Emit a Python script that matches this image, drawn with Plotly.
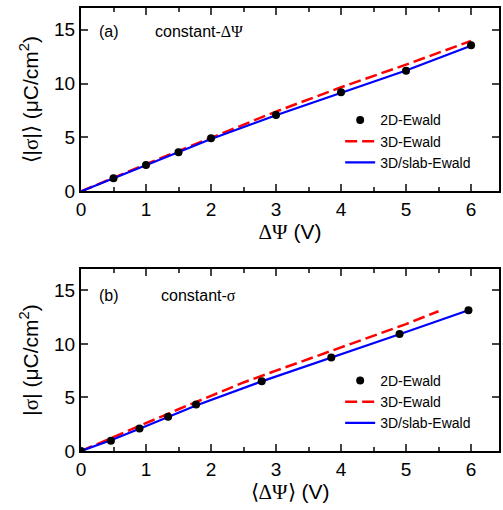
import plotly.graph_objects as go

# ---- panel (a): constant-ΔΨ ----
a_pts_x = [0.5, 1, 1.5, 2, 3, 4, 5, 6]
a_pts_y = [1.22, 2.45, 3.63, 4.93, 7.08, 9.18, 11.19, 13.54]
a_3d_x = [0, 0.5, 1, 1.5, 2, 3, 4, 5, 6]
a_3d_y = [0, 1.28, 2.52, 3.75, 4.98, 7.4, 9.65, 11.75, 13.95]
a_slab_x = [0, 0.5, 1, 1.5, 2, 3, 4, 5, 6]
a_slab_y = [0, 1.2, 2.42, 3.6, 4.85, 7.05, 9.15, 11.2, 13.5]

# ---- panel (b): constant-σ ----
b_pts_x = [0, 0.46, 0.90, 1.34, 1.77, 2.78, 3.85, 4.90, 5.96]
b_pts_y = [0, 0.96, 2.11, 3.2, 4.35, 6.52, 8.73, 10.93, 13.14]
b_3d_x = [0, 0.5, 1, 1.5, 2, 2.5, 3, 3.5, 4, 4.5, 5, 5.5]
b_3d_y = [0, 1.32, 2.62, 3.9, 5.15, 6.4, 7.5, 8.6, 9.65, 10.75, 11.85, 13.05]
b_slab_x = [0, 0.46, 0.90, 1.34, 1.77, 2.78, 3.85, 4.90, 5.96]
b_slab_y = [0, 1.0, 2.08, 3.15, 4.25, 6.5, 8.7, 10.9, 13.14]

names = ["2D-Ewald", "3D-Ewald", "3D/slab-Ewald"]
x_ticks = [0, 1, 2, 3, 4, 5, 6]
y_ticks = [0, 5, 10, 15]

FONT = "Liberation Sans, Arial, sans-serif"
GREEK = "<span style='font-family:Liberation Serif'>%s</span>"

fig = go.Figure()

def add_panel(px, py, rx, ry, bx, by, xa, ya, leg):
    fig.add_trace(go.Scatter(x=rx, y=ry, mode="lines", name=names[1], legendrank=2,
                             line=dict(color="#ff0000", width=2.5, dash="12px,5px"),
                             xaxis=xa, yaxis=ya, legend=leg))
    fig.add_trace(go.Scatter(x=bx, y=by, mode="lines", name=names[2], legendrank=3,
                             line=dict(color="#0000ff", width=2.2),
                             xaxis=xa, yaxis=ya, legend=leg))
    fig.add_trace(go.Scatter(x=px, y=py, mode="markers", name=names[0], legendrank=1,
                             marker=dict(color="black", size=8),
                             xaxis=xa, yaxis=ya, legend=leg))

add_panel(a_pts_x, a_pts_y, a_3d_x, a_3d_y, a_slab_x, a_slab_y, "x", "y", "legend")
add_panel(b_pts_x, b_pts_y, b_3d_x, b_3d_y, b_slab_x, b_slab_y, "x2", "y2", "legend2")

common_x = dict(range=[0, 6.43], tickvals=x_ticks, ticks="inside", ticklen=7, tickwidth=1.5,
                mirror="allticks", showline=True, linewidth=2, linecolor="black",
                showgrid=False, zeroline=False, tickfont=dict(size=19, color="black"),
                minor=dict(dtick=0.5, ticks="inside", ticklen=4, tickwidth=1.5, showgrid=False))
common_y = dict(range=[0, 17], tickvals=y_ticks, ticks="inside", ticklen=7, tickwidth=1.5,
                mirror="ticks", showline=True, linewidth=2, linecolor="black",
                showgrid=False, zeroline=False, tickfont=dict(size=19, color="black"))

fig.update_layout(
    width=503, height=510,
    margin=dict(l=81, r=2, t=8, b=59),
    plot_bgcolor="white", paper_bgcolor="white",
    font=dict(family=FONT, color="black"),
    xaxis=dict(common_x, domain=[0, 1], anchor="y",
               title=dict(text=GREEK % "ΔΨ" + " (V)", font=dict(size=21), standoff=4)),
    yaxis=dict(common_y, domain=[0.586, 1], anchor="x",
               title=dict(text="⟨|" + GREEK % "σ" + "|⟩ (μC/cm<sup>2</sup>)", font=dict(size=21), standoff=10)),
    xaxis2=dict(common_x, domain=[0, 1], anchor="y2",
                title=dict(text="⟨" + GREEK % "ΔΨ" + "⟩ (V)", font=dict(size=21), standoff=4)),
    yaxis2=dict(common_y, domain=[0, 0.411], anchor="x2",
                title=dict(text="|" + GREEK % "σ" + "| (μC/cm<sup>2</sup>)", font=dict(size=21), standoff=10)),
    legend=dict(x=0.62, y=0.699, xanchor="left", yanchor="middle", bgcolor="rgba(0,0,0,0)",
                font=dict(size=14), tracegroupgap=0, itemwidth=30, traceorder="normal"),
    legend2=dict(x=0.62, y=0.111, xanchor="left", yanchor="middle", bgcolor="rgba(0,0,0,0)",
                 font=dict(size=14), tracegroupgap=0, itemwidth=30, traceorder="normal"),
    showlegend=True,
)

fig.add_annotation(x=0.43, y=14.8, xref="x", yref="y", text="(a)", showarrow=False,
                   xanchor="center", font=dict(size=16))
fig.add_annotation(x=1.1, y=14.8, xref="x", yref="y", text="constant-" + GREEK % "ΔΨ",
                   showarrow=False, xanchor="left", font=dict(size=16))
fig.add_annotation(x=0.43, y=14.5, xref="x2", yref="y2", text="(b)", showarrow=False,
                   xanchor="center", font=dict(size=16))
fig.add_annotation(x=1.2, y=14.5, xref="x2", yref="y2", text="constant-" + GREEK % "σ",
                   showarrow=False, xanchor="left", font=dict(size=16))

fig.write_html("out.html")
